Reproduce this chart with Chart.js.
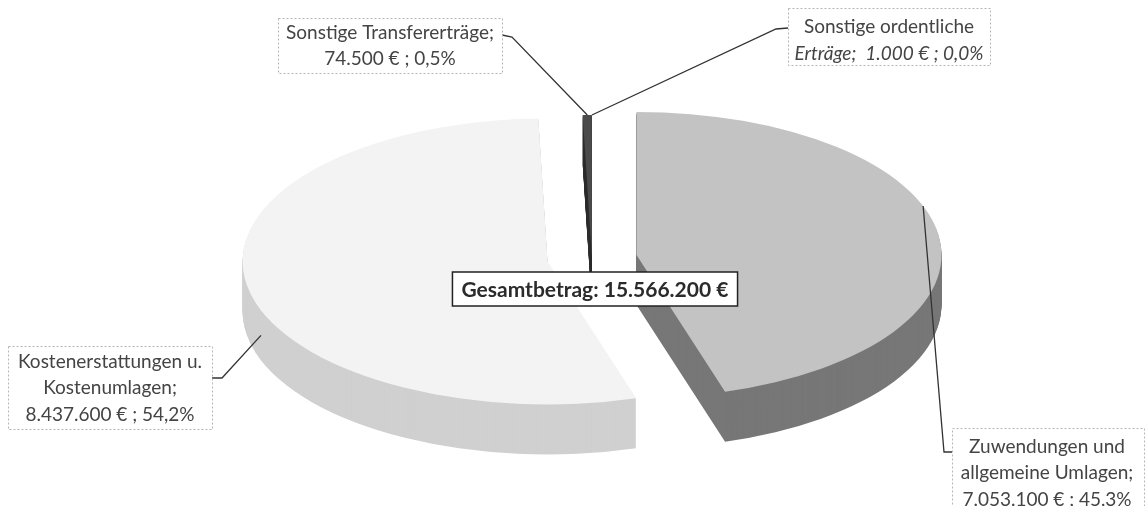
<!DOCTYPE html>
<html>
<head>
<meta charset="utf-8">
<script src="https://cdn.jsdelivr.net/npm/chart.js@4.4.1/dist/chart.umd.min.js"></script>
<style>
  html, body { margin: 0; padding: 0; background: #fff; }
  #wrap { width: 1147px; height: 506px; }
</style>
</head>
<body>
<div id="wrap"><canvas id="pie" width="1147" height="506"></canvas></div>
<script>
const categories = ["Zuwendungen und allgemeine Umlagen", "Kostenerstattungen u. Kostenumlagen", "Sonstige Transfererträge", "Sonstige ordentliche Erträge"];
const amounts = [7053100, 8437600, 74500, 1000];
const totalLabel = "Gesamtbetrag";
// how each category name is broken inside its callout box
const labelLines = [
    ["Zuwendungen und", "allgemeine Umlagen;"],
    ["Kostenerstattungen u.", "Kostenumlagen;"],
    ["Sonstige Transfererträge;"],
    ["Sonstige ordentliche", "Erträge; "]
];
const valueInline = [false, false, false, true]; // value on the same line as the last name line

const topColors = ['#c3c3c3', '#f3f3f3', '#4a4a4a', '#333333'];
const sideColors = ['#777777', '#d0d0d0', '#2e2e2e', '#222222'];
const explode = [45, 45, 0, 0];

// pie geometry on screen (ellipse + thickness)
const CX = 592, CY = 258, RX = 305, RY = 143, DEPTH = 50;

// callout boxes and leader elbows
const callouts = [
    { x: 952, y: 428, w: 192, h: 90, tx: 1047, ty: 473, elbow: [[952, 452], [944, 452]], angle: -20, depth: 0 },
    { x: 8, y: 346, w: 204, h: 83, tx: 110, ty: 388, elbow: [[212, 378], [222, 378]], angle: 160, depth: 0.5 },
    { x: 278, y: 18, w: 224, h: 55, tx: 390, ty: 46, elbow: [[502, 35], [512, 37]], angle: null, depth: 0 },
    { x: 788, y: 8, w: 202, h: 57, tx: 889, ty: 40.5, elbow: [[788, 28], [776, 29]], angle: null, depth: 0, italicLast: true }
];

const total = amounts.reduce((a, b) => a + b, 0);

function fmt(n) {
    return n.toString().replace(/\B(?=(\d{3})+(?!\d))/g, '.');
}

function valueText(i) {
    const pct = (amounts[i] / total * 100).toFixed(1).replace('.', ',');
    return `${fmt(amounts[i])}\u202F€ ; ${pct}%`;
}

function shift(arc, i) {
    const mid = (arc.startAngle + arc.endAngle) / 2;
    return [explode[i] * Math.cos(mid), explode[i] * Math.sin(mid) * RY / RX];
}

function drawFace(ctx, arc, i, dy, color) {
    const [ex, ey] = shift(arc, i);
    const p = Object.create(arc);
    p.options = Object.assign({}, arc.options, { backgroundColor: color, borderWidth: 0, offset: 0 });
    ctx.save();
    ctx.translate(CX + ex, CY + ey + dy);
    ctx.scale(RX / arc.outerRadius, RY / arc.outerRadius);
    ctx.translate(-arc.x, -arc.y);
    p.draw(ctx);
    ctx.restore();
}

const pie3d = {
    id: 'pie3d',
    beforeDatasetsDraw(chart) {
        const ctx = chart.ctx;
        const arcs = chart.getDatasetMeta(0).data;
        for (let d = DEPTH; d >= 1; d--) {
            arcs.forEach((arc, i) => drawFace(ctx, arc, i, d, sideColors[i]));
        }
        arcs.forEach((arc, i) => drawFace(ctx, arc, i, 0, topColors[i]));
        return false;
    },
    afterDraw(chart) {
        const ctx = chart.ctx;
        const arcs = chart.getDatasetMeta(0).data;
        ctx.save();
        // leader lines
        callouts.forEach((c, i) => {
            const arc = arcs[i];
            const [ex, ey] = shift(arc, i);
            const a = c.angle === null ? (arc.startAngle + arc.endAngle) / 2 : c.angle * Math.PI / 180;
            const px = CX + ex + RX * Math.cos(a);
            const py = CY + ey + RY * Math.sin(a) + c.depth * DEPTH;
            ctx.beginPath();
            ctx.moveTo(c.elbow[0][0], c.elbow[0][1]);
            ctx.lineTo(c.elbow[1][0], c.elbow[1][1]);
            ctx.lineTo(px, py);
            ctx.strokeStyle = '#333';
            ctx.lineWidth = 1.3;
            ctx.stroke();
        });
        // callout boxes
        ctx.textAlign = 'center';
        ctx.textBaseline = 'middle';
        callouts.forEach((c, i) => {
            ctx.fillStyle = '#fff';
            ctx.fillRect(c.x, c.y, c.w, c.h);
            ctx.setLineDash([2, 2]);
            ctx.strokeStyle = '#b5b5b5';
            ctx.lineWidth = 1;
            ctx.strokeRect(c.x + 0.5, c.y + 0.5, c.w, c.h);
            ctx.setLineDash([]);
            const lines = labelLines[i].slice();
            if (valueInline[i]) lines[lines.length - 1] += ' ' + valueText(i);
            else lines.push(valueText(i));
            const lh = 26.5;
            ctx.fillStyle = '#444';
            lines.forEach((t, k) => {
                const italic = c.italicLast && k === lines.length - 1;
                ctx.font = (italic ? 'italic ' : '') + '19px Lato';
                ctx.fillText(t, c.tx, c.ty + (k - (lines.length - 1) / 2) * lh);
            });
        });
        // total box
        const txt = `${totalLabel}: ${fmt(total)}\u202F€`;
        ctx.font = 'bold 21px Lato';
        const w = ctx.measureText(txt).width + 18;
        const bx = 595 - w / 2, by = 272, bh = 34;
        ctx.fillStyle = '#fff';
        ctx.fillRect(bx, by, w, bh);
        ctx.strokeStyle = '#222';
        ctx.lineWidth = 1.5;
        ctx.strokeRect(bx, by, w, bh);
        ctx.fillStyle = '#2b2b2b';
        ctx.fillText(txt, 595, by + bh / 2 + 1);
        ctx.restore();
    }
};

new Chart(document.getElementById('pie'), {
    type: 'pie',
    data: {
        labels: categories,
        datasets: [{
            data: amounts,
            backgroundColor: topColors,
            borderWidth: 0
        }]
    },
    options: {
        responsive: false,
        animation: false,
        events: [],
        layout: { padding: 0 },
        plugins: {
            legend: { display: false },
            tooltip: { enabled: false }
        }
    },
    plugins: [pie3d]
});
</script>
</body>
</html>
